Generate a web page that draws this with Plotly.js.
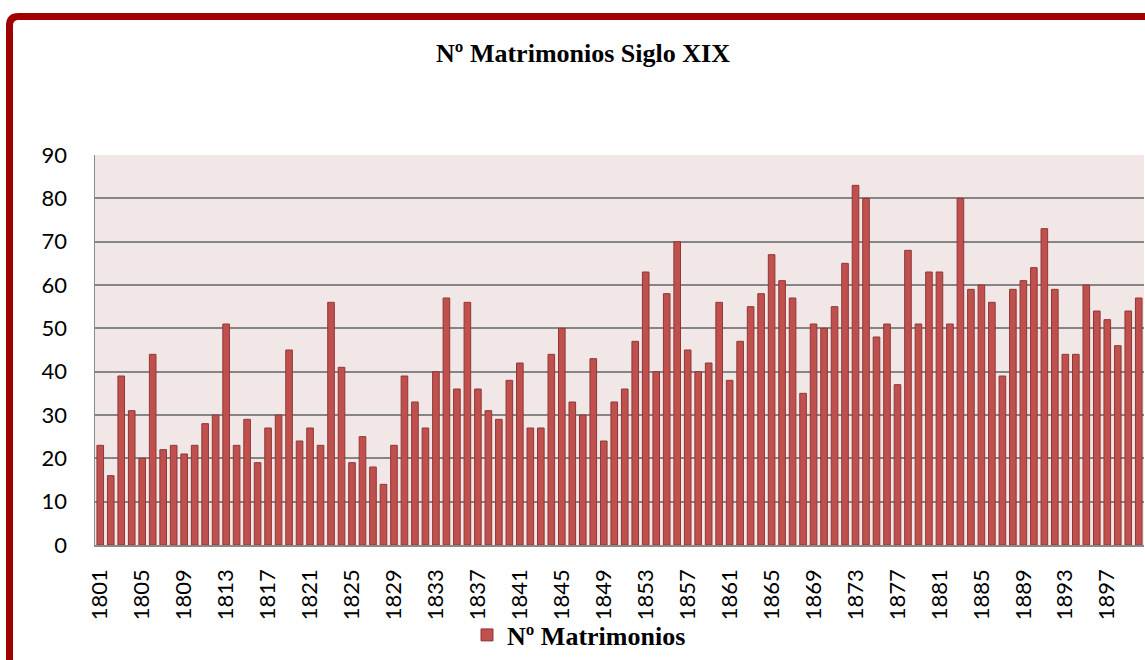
<!DOCTYPE html>
<html>
<head>
<meta charset="utf-8">
<script src="https://cdn.plot.ly/plotly-3.0.1.min.js"></script>
<style>
html,body{margin:0;padding:0;background:#fff;overflow:hidden;}
#chart{width:1145px;height:660px;}
</style>
</head>
<body>
<div id="chart"></div>
<script>
const years = ["1801","1802","1803","1804","1805","1806","1807","1808","1809","1810",
"1811","1812","1813","1814","1815","1816","1817","1818","1819","1820",
"1821","1822","1823","1824","1825","1826","1827","1828","1829","1830",
"1831","1832","1833","1834","1835","1836","1837","1838","1839","1840",
"1841","1842","1843","1844","1845","1846","1847","1848","1849","1850",
"1851","1852","1853","1854","1855","1856","1857","1858","1859","1860",
"1861","1862","1863","1864","1865","1866","1867","1868","1869","1870",
"1871","1872","1873","1874","1875","1876","1877","1878","1879","1880",
"1881","1882","1883","1884","1885","1886","1887","1888","1889","1890",
"1891","1892","1893","1894","1895","1896","1897","1898","1899","1900"];

const matrimonios = [23,16,39,31,20,44,22,23,21,23,
28,30,51,23,29,19,27,30,45,24,
27,23,56,41,19,25,18,14,23,39,
33,27,40,57,36,56,36,31,29,38,
42,27,27,44,50,33,30,43,24,33,
36,47,63,40,58,70,45,40,42,56,
38,47,55,58,67,61,57,35,51,50,
55,65,83,80,48,51,37,68,51,63,
63,51,80,59,60,56,39,59,61,64,
73,59,44,44,60,54,52,46,54,57];

const tickYears = ["1801","1805","1809","1813","1817","1821","1825","1829","1833","1837",
"1841","1845","1849","1853","1857","1861","1865","1869","1873","1877",
"1881","1885","1889","1893","1897"];

const yTicks = [0,10,20,30,40,50,60,70,80,90];

const seriesName = "Nº Matrimonios";
const chartTitle = "Nº Matrimonios Siglo XIX";

const W = 1145, H = 660;
const mL = 95, mR = 1, mT = 155, mB = 115;
const pw = W - mL - mR, ph = H - mT - mB;
function px(x){ return (x - mL) / pw; }
function py(y){ return (H - mB - y) / ph; }

const fx = px(9.5), fy = py(16.5);
const rx = 9 / pw, ry = 9 / ph;
const framePath = "M " + fx + "," + (-0.6) +
  " L " + fx + "," + (fy - ry) +
  " Q " + fx + "," + fy + " " + (fx + rx) + "," + fy +
  " L 1.3," + fy;

const trace = {
  type: "bar",
  x: years,
  y: matrimonios,
  name: seriesName,
  marker: {color: "#C0504D", line: {color: "#8E3836", width: 1}},
  showlegend: true,
  hoverinfo: "x+y"
};

const layout = {
  width: W, height: H, autosize: false,
  margin: {l: mL, r: mR, t: mT, b: mB, pad: 0},
  paper_bgcolor: "#ffffff",
  plot_bgcolor: "#F2E7E7",
  bargap: 0.37,
  showlegend: true,
  title: {
    text: "<b>" + chartTitle + "</b>",
    font: {family: "Liberation Serif, Times New Roman, serif", size: 26, color: "#000"},
    xref: "container", yref: "container",
    x: 583 / W, xanchor: "center",
    y: 1 - 53 / H, yanchor: "middle"
  },
  xaxis: {
    type: "category",
    tickmode: "array",
    tickvals: tickYears,
    ticktext: tickYears,
    tickangle: -90,
    ticks: "",
    ticklabelstandoff: 14,
    tickfont: {family: "Lato, DejaVu Sans, sans-serif", size: 22, color: "#000"},
    showline: true, linecolor: "#8A8A8A", linewidth: 1.5,
    showgrid: false, zeroline: false,
    range: [-0.5, 99.5]
  },
  yaxis: {
    range: [0, 90],
    tickmode: "array",
    tickvals: yTicks,
    ticktext: yTicks.map(String),
    ticks: "",
    ticklabelstandoff: 22,
    tickfont: {family: "Lato, DejaVu Sans, sans-serif", size: 22, color: "#000"},
    showgrid: true, gridcolor: "#858585", gridwidth: 2,
    showline: true, linecolor: "#8A8A8A", linewidth: 1.5,
    zeroline: false
  },
  legend: {
    orientation: "h",
    xref: "container", yref: "container",
    x: 579 / W, xanchor: "center",
    y: 1 - 635 / H, yanchor: "middle",
    font: {family: "Liberation Serif, Times New Roman, serif", size: 26, color: "#000", weight: "bold"},
    itemwidth: 30,
    bgcolor: "rgba(0,0,0,0)"
  },
  shapes: [{
    type: "path",
    xref: "paper", yref: "paper",
    path: framePath,
    line: {color: "#A00000", width: 7},
    layer: "above"
  }]
};

Plotly.newPlot("chart", [trace], layout, {displayModeBar: false, staticPlot: true});
</script>
</body>
</html>
